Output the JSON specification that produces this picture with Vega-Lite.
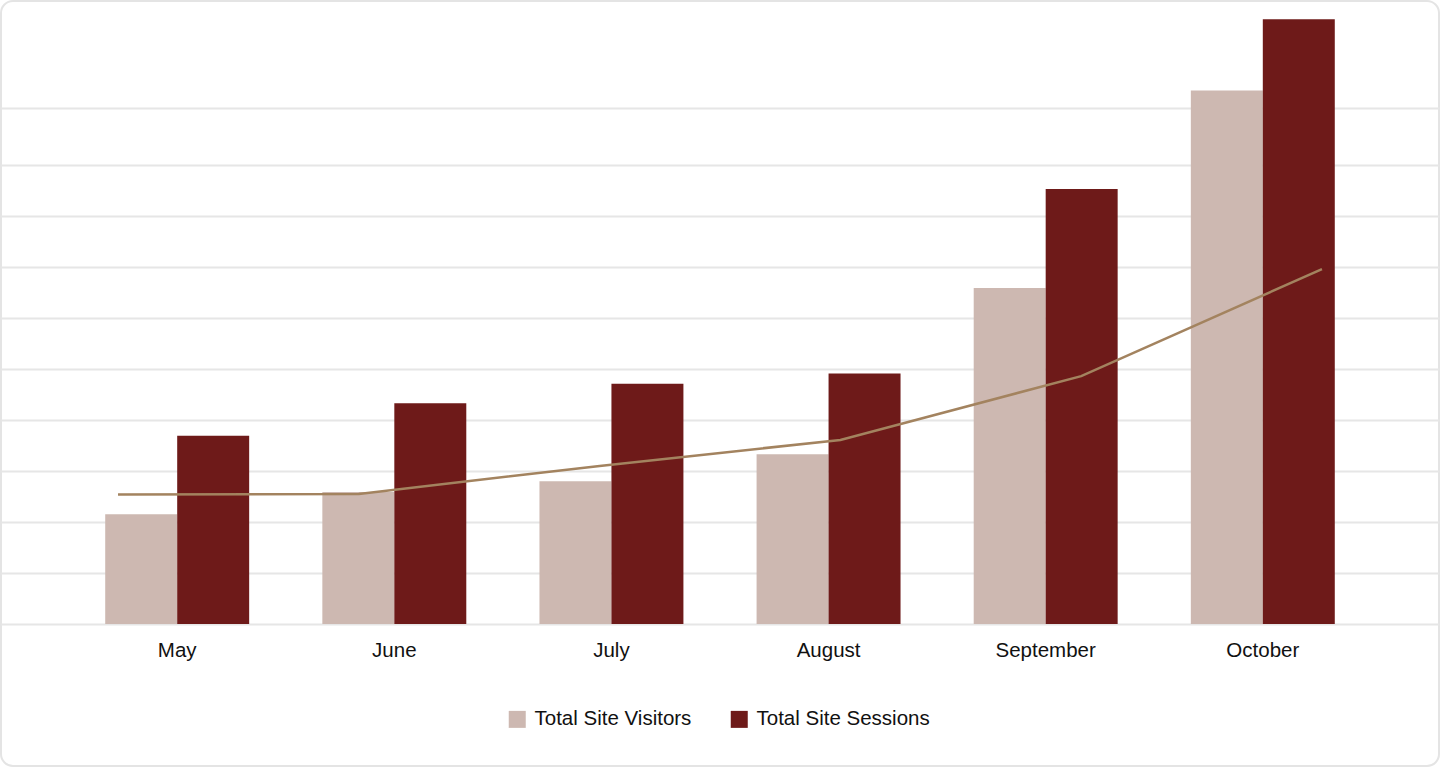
{
  "$schema": "https://vega.github.io/schema/vega-lite/v6.json",
  "width": 1438,
  "height": 765,
  "padding": 1,
  "background": "#ffffff",
  "config": {
    "view": {"stroke": "#e4e4e4", "strokeWidth": 2, "cornerRadius": 12},
    "font": "Liberation Sans"
  },
  "datasets": {
    "bars": [
      {"month": "May", "series": "Total Site Visitors", "value": 2150},
      {"month": "May", "series": "Total Site Sessions", "value": 3690},
      {"month": "June", "series": "Total Site Visitors", "value": 2590},
      {"month": "June", "series": "Total Site Sessions", "value": 4330},
      {"month": "July", "series": "Total Site Visitors", "value": 2800},
      {"month": "July", "series": "Total Site Sessions", "value": 4710},
      {"month": "August", "series": "Total Site Visitors", "value": 3330},
      {"month": "August", "series": "Total Site Sessions", "value": 4910},
      {"month": "September", "series": "Total Site Visitors", "value": 6590},
      {"month": "September", "series": "Total Site Sessions", "value": 8530},
      {"month": "October", "series": "Total Site Visitors", "value": 10460},
      {"month": "October", "series": "Total Site Sessions", "value": 11860}
    ],
    "trend": [
      {"month": "May", "value": 2540},
      {"month": "June", "value": 2550},
      {"month": "July", "value": 3100},
      {"month": "August", "value": 3610},
      {"month": "September", "value": 4860},
      {"month": "October", "value": 6960}
    ]
  },
  "layer": [
    {
      "data": {"name": "bars"},
      "mark": {"type": "bar"},
      "encoding": {
        "x": {
          "field": "month",
          "type": "nominal",
          "sort": ["May", "June", "July", "August", "September", "October"],
          "scale": {"paddingInner": 0.337, "paddingOuter": 0.48},
          "axis": {
            "title": null,
            "orient": "bottom",
            "offset": -142,
            "domain": false,
            "ticks": false,
            "grid": false,
            "labelPadding": 16,
            "labelFontSize": 20.5,
            "labelColor": "#111111",
            "labelAngle": 0
          }
        },
        "xOffset": {
          "field": "series",
          "type": "nominal",
          "sort": ["Total Site Visitors", "Total Site Sessions"],
          "scale": {"paddingInner": 0, "paddingOuter": 0}
        },
        "y": {
          "field": "value",
          "type": "quantitative",
          "scale": {"domain": [-2784, 12216], "nice": false},
          "axis": {
            "title": null,
            "values": [0, 1000, 2000, 3000, 4000, 5000, 6000, 7000, 8000, 9000, 10120],
            "grid": true,
            "gridColor": "#e6e6e6",
            "gridWidth": 2,
            "labels": false,
            "ticks": false,
            "domain": false
          }
        },
        "color": {
          "field": "series",
          "type": "nominal",
          "scale": {
            "domain": ["Total Site Visitors", "Total Site Sessions"],
            "range": ["#cdb8b1", "#6e1a19"]
          },
          "legend": {
            "orient": "none",
            "legendX": 506,
            "legendY": 708,
            "direction": "horizontal",
            "columns": 2,
            "title": null,
            "symbolType": "square",
            "symbolSize": 289,
            "symbolStrokeWidth": 0,
            "labelFontSize": 20.5,
            "labelLimit": 400,
            "labelColor": "#111111",
            "labelOffset": 7,
            "columnPadding": 37
          }
        }
      }
    },
    {
      "data": {"name": "trend"},
      "mark": {"type": "line", "color": "#a3835f", "strokeWidth": 2.5},
      "encoding": {
        "x": {
          "field": "month",
          "type": "nominal",
          "sort": ["May", "June", "July", "August", "September", "October"],
          "scale": {"type": "point", "padding": 0.486},
          "axis": null
        },
        "y": {"field": "value", "type": "quantitative"}
      }
    }
  ],
  "resolve": {"scale": {"x": "independent"}}
}
